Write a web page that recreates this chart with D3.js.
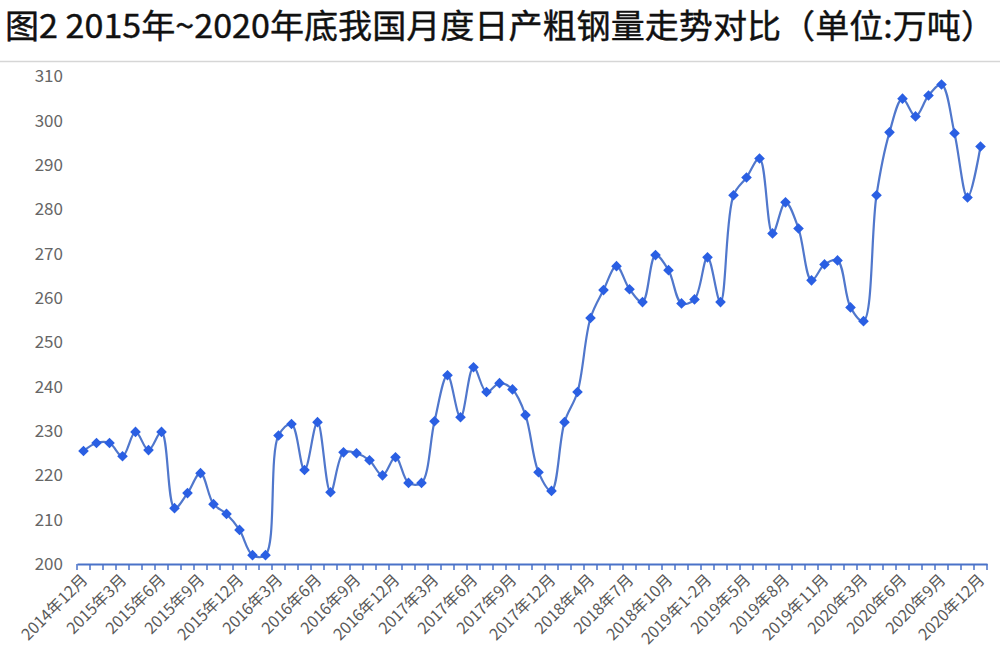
<!DOCTYPE html>
<html><head><meta charset="utf-8">
<script src="https://cdn.jsdelivr.net/npm/d3@7/dist/d3.min.js"></script>
<style>body{margin:0;background:#fff;}svg{display:block;}</style>
</head><body>
<svg id="c" width="1000" height="661"></svg>
<script>
const months = [
 "2014年12月","2015年1月","2015年2月","2015年3月","2015年4月","2015年5月","2015年6月","2015年7月","2015年8月","2015年9月","2015年10月","2015年11月","2015年12月",
 "2016年1月","2016年2月","2016年3月","2016年4月","2016年5月","2016年6月","2016年7月","2016年8月","2016年9月","2016年10月","2016年11月","2016年12月",
 "2017年1月","2017年2月","2017年3月","2017年4月","2017年5月","2017年6月","2017年7月","2017年8月","2017年9月","2017年10月","2017年11月","2017年12月",
 "2018年1-2月","2018年3月","2018年4月","2018年5月","2018年6月","2018年7月","2018年8月","2018年9月","2018年10月","2018年11月","2018年12月",
 "2019年1-2月","2019年3月","2019年4月","2019年5月","2019年6月","2019年7月","2019年8月","2019年9月","2019年10月","2019年11月","2019年12月",
 "2020年1-2月","2020年3月","2020年4月","2020年5月","2020年6月","2020年7月","2020年8月","2020年9月","2020年10月","2020年11月","2020年12月"
];
const output = [
 225.5,227.3,227.3,224.3,229.8,225.7,229.8,212.6,216.0,220.5,213.5,211.3,207.7,
 202.0,202.0,229.0,231.6,221.2,232.0,216.2,225.2,225.0,223.4,220.0,224.1,
 218.3,218.3,232.2,242.6,233.1,244.4,238.8,240.8,239.4,233.6,220.7,216.5,
 232.0,238.8,255.5,261.8,267.2,262.0,259.1,269.7,266.3,258.8,259.7,
 269.2,259.1,283.2,287.2,291.5,274.6,281.6,275.7,264.0,267.6,268.5,
 257.9,254.8,283.2,297.4,305.0,301.0,305.7,308.2,297.2,282.7,294.2
];
const yTicks = [200,210,220,230,240,250,260,270,280,290,300,310];
const labelEvery = 3;
const title = "图2 2015年~2020年底我国月度日产粗钢量走势对比（单位:万吨）";

const svg = d3.select("#c");
const font = "'Noto Sans CJK SC','Noto Sans',sans-serif";

svg.append("text").attr("x",5).attr("y",38)
  .attr("font-family",font).attr("font-size",33).attr("fill","#111")
  .attr("stroke","#111").attr("stroke-width",0.4)
  .attr("textLength",990).attr("lengthAdjust","spacingAndGlyphs")
  .text(title);

svg.append("line").attr("x1",0).attr("x2",1000).attr("y1",61.5).attr("y2",61.5)
  .attr("stroke","#d6d6d6").attr("stroke-width",1.5);

const x = d3.scaleBand().domain(months).range([77,987]);
const y = d3.scaleLinear().domain([200,310]).range([564,76.5]);
const cx = d => x(d) + x.bandwidth()/2;

// y labels
const yg = svg.append("g").attr("transform","translate(63,0)")
  .call(d3.axisLeft(y).tickValues(yTicks).tickSize(0).tickPadding(0));
yg.select(".domain").remove();
yg.selectAll("text").attr("font-family",font).attr("font-size",17).attr("fill","#666");

// x axis
const xg = svg.append("g").attr("transform","translate(0,564)")
  .call(d3.axisBottom(x).tickSize(0).tickFormat(""));
xg.select(".domain").attr("stroke","#4a72c8").attr("stroke-width",2);
svg.append("g").selectAll("line").data(d3.range(months.length+1)).join("line")
  .attr("x1",i=>77+i*x.step()).attr("x2",i=>77+i*x.step())
  .attr("y1",564).attr("y2",570).attr("stroke","#4a72c8").attr("stroke-width",1.5);

svg.append("g").selectAll("text").data(months.filter((d,i)=>i%labelEvery===0)).join("text")
  .attr("transform",d=>`translate(${cx(d)+5},${581}) rotate(-45)`)
  .attr("text-anchor","end")
  .attr("font-family",font).attr("font-size",16).attr("fill","#595959")
  .text(d=>d);

// line
const line = d3.line().x((d,i)=>cx(months[i])).y(d=>y(d)).curve(d3.curveCatmullRom.alpha(0.5));
svg.append("path").datum(output).attr("d",line)
  .attr("fill","none").attr("stroke","#5077cc").attr("stroke-width",2.2);

svg.append("g").selectAll("path").data(output).join("path")
  .attr("transform",(d,i)=>`translate(${cx(months[i])},${y(d)})`)
  .attr("d",d3.symbol(d3.symbolDiamond2,72)())
  .attr("fill","#2a5fe3");
</script>
</body></html>
